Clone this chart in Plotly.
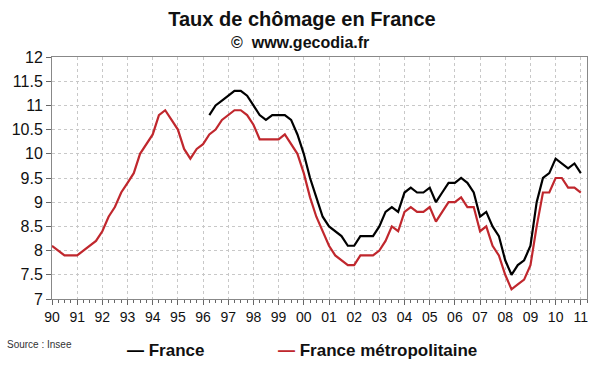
import plotly.graph_objects as go

# Quarterly periods 1990 T1 .. 2011 T1
years = list(range(1990, 2012))
quarters = [f"{y}-{m:02d}-01" for y in years for m in (1, 4, 7, 10)][:85]

# France métropolitaine (1990 T1 .. 2011 T1)
metro = [8.1, 8.0, 7.9, 7.9, 7.9, 8.0, 8.1, 8.2, 8.4, 8.7, 8.9, 9.2, 9.4, 9.6, 10.0, 10.2,
         10.4, 10.8, 10.9, 10.7, 10.5, 10.1, 9.9, 10.1, 10.2, 10.4, 10.5, 10.7, 10.8, 10.9, 10.9, 10.8,
         10.6, 10.3, 10.3, 10.3, 10.3, 10.4, 10.2, 10.0, 9.6, 9.1, 8.7, 8.4, 8.1, 7.9, 7.8, 7.7,
         7.7, 7.9, 7.9, 7.9, 8.0, 8.2, 8.5, 8.4, 8.8, 8.9, 8.8, 8.8, 8.9, 8.6, 8.8, 9.0,
         9.0, 9.1, 8.9, 8.9, 8.4, 8.5, 8.1, 7.9, 7.5, 7.2, 7.3, 7.4, 7.7, 8.5, 9.2, 9.2,
         9.5, 9.5, 9.3, 9.3, 9.2]

# France (1996 T2 .. 2011 T1)
france_start = 25
france = [10.8, 11.0, 11.1, 11.2, 11.3, 11.3, 11.2,
          11.0, 10.8, 10.7, 10.8, 10.8, 10.8, 10.7, 10.4, 10.0, 9.5, 9.1, 8.7, 8.5, 8.4, 8.3, 8.1,
          8.1, 8.3, 8.3, 8.3, 8.5, 8.8, 8.9, 8.8, 9.2, 9.3, 9.2, 9.2, 9.3, 9.0, 9.2, 9.4,
          9.4, 9.5, 9.4, 9.2, 8.7, 8.8, 8.5, 8.3, 7.8, 7.5, 7.7, 7.8, 8.1, 9.0, 9.5, 9.6,
          9.9, 9.8, 9.7, 9.8, 9.6]

tick_years = [f"{y}-01-01" for y in years]
tick_text = [f"{y % 100:02d}" for y in years]
y_ticks = [7, 7.5, 8, 8.5, 9, 9.5, 10, 10.5, 11, 11.5, 12]

RED = "#c0272d"
FONT = "Liberation Sans, Arial, sans-serif"

fig = go.Figure()
fig.add_trace(go.Scatter(x=quarters, y=metro, mode="lines", name="France métropolitaine",
                         line=dict(color=RED, width=2.2), showlegend=False))
fig.add_trace(go.Scatter(x=quarters[france_start:france_start + len(france)], y=france,
                         mode="lines", name="France",
                         line=dict(color="#000000", width=2.2), showlegend=False))

fig.update_layout(
    width=600, height=372, autosize=False,
    margin=dict(l=46, r=13, t=57, b=73),
    paper_bgcolor="white", plot_bgcolor="white",
    font=dict(family=FONT, color="#111111"),
    title=dict(text="<b>Taux de chômage en France</b>", x=(302 / 600), xanchor="center",
               y=1 - 19 / 372, yanchor="middle", yref="container",
               font=dict(size=20, color="#111111")),
    xaxis=dict(
        type="date", range=["1990-01-01", "2011-04-01"],
        tickvals=tick_years, ticktext=tick_text,
        tickfont=dict(size=14, color="#111111"),
        showgrid=True, gridcolor="#c8c8c8", griddash="dot", gridwidth=1,
        showline=True, linecolor="#888888", linewidth=1, mirror=True,
        ticks="outside", ticklen=5, tickcolor="#666666",
        minor=dict(dtick="M3", tick0="1990-01-01", ticks="outside", ticklen=3,
                   tickcolor="#666666", showgrid=False),
        zeroline=False,
    ),
    yaxis=dict(
        range=[7, 12], tickvals=y_ticks,
        tickfont=dict(size=16, color="#111111"),
        showgrid=True, gridcolor="#c8c8c8", griddash="dot", gridwidth=1,
        showline=True, linecolor="#888888", linewidth=1, mirror=True,
        ticks="outside", ticklen=5, tickcolor="#666666",
        zeroline=False,
    ),
    annotations=[
        dict(text="<b>©  www.gecodia.fr</b>", xref="paper", yref="paper",
             x=(297 - 46) / 541, y=(299 - 42) / 242, xanchor="center", yanchor="middle",
             showarrow=False, font=dict(size=16, color="#111111")),
        dict(text="Source : Insee", xref="paper", yref="paper",
             x=(-2 - 46) / 541, y=(299 - 344) / 242, xanchor="left", yanchor="middle",
             showarrow=False, font=dict(size=10, color="#333333")),
        dict(text="<b><span style='color:#000000'>—</span> France</b>", xref="paper", yref="paper",
             x=(120 - 46) / 541, y=(299 - 350) / 242, xanchor="left", yanchor="middle",
             showarrow=False, font=dict(size=17, color="#111111")),
        dict(text=f"<b><span style='color:{RED}'>—</span> France métropolitaine</b>",
             xref="paper", yref="paper",
             x=(273 - 46) / 541, y=(299 - 350) / 242, xanchor="left", yanchor="middle",
             showarrow=False, font=dict(size=17, color="#111111")),
    ],
)

fig.write_html("out.html", config={"displayModeBar": False},
               post_script="document.body.style.margin='0';")
